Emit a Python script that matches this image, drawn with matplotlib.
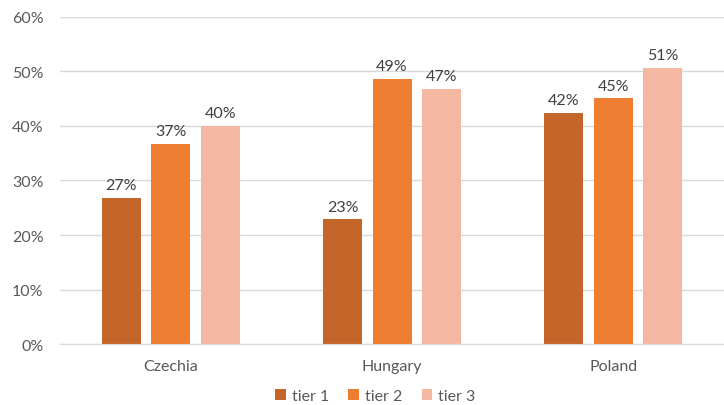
import matplotlib.pyplot as plt
import numpy as np
from matplotlib.ticker import PercentFormatter

countries = ["Czechia", "Hungary", "Poland"]
tiers = ["tier 1", "tier 2", "tier 3"]
tier1 = [26.8, 22.9, 42.4]
tier2 = [36.7, 48.6, 45.1]
tier3 = [40.0, 46.8, 50.7]
labels = [["27%", "23%", "42%"], ["37%", "49%", "45%"], ["40%", "47%", "51%"]]
colors = ["#C4652A", "#ED7D31", "#F4B8A2"]

plt.rcParams["font.family"] = ["Lato", "DejaVu Sans"]

fig = plt.figure(figsize=(7.24, 4.06), dpi=100)
ax = fig.add_axes([0.083, 0.150, 0.917, 0.806])

x = np.arange(len(countries))
width = 0.176
step = 0.224
for i, (vals, color) in enumerate(zip([tier1, tier2, tier3], colors)):
    bars = ax.bar(x + (i - 1) * step, vals, width, color=color, label=tiers[i], zorder=2)
    for b, lab in zip(bars, labels[i]):
        ax.annotate(lab, (b.get_x() + b.get_width() / 2, b.get_height()),
                    textcoords="offset points", xytext=(0, 4), ha="center", va="bottom",
                    fontsize=11.5, color="#404040")

ax.set_xlim(-0.5, 2.5)
ax.set_ylim(0, 60)
ax.set_yticks(range(0, 61, 10))
ax.yaxis.set_major_formatter(PercentFormatter(decimals=0))
ax.set_xticks(x)
ax.set_xticklabels(countries)
ax.tick_params(axis="both", length=0, labelsize=11.5, labelcolor="#595959")
ax.tick_params(axis="x", pad=11)
ax.tick_params(axis="y", pad=12)
ax.grid(axis="y", color="#D9D9D9", linewidth=1, zorder=0)
for s in ["top", "right", "left"]:
    ax.spines[s].set_visible(False)
ax.spines["bottom"].set_color("#D9D9D9")

ax.legend(loc="center", bbox_to_anchor=(0.475, -0.158), ncol=3, frameon=False,
          fontsize=11.5, labelcolor="#595959", handlelength=0.65, handleheight=0.65,
          columnspacing=1.2, handletextpad=0.4, borderpad=0)

fig.savefig("out.png", dpi=100)
